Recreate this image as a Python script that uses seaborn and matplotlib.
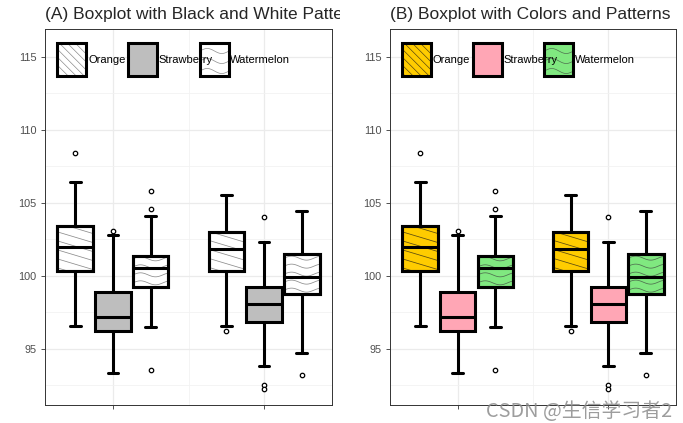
import numpy as np
import pandas as pd
import matplotlib
matplotlib.use("Agg")
import matplotlib.pyplot as plt
import seaborn as sns
from matplotlib.lines import Line2D
from matplotlib.patches import Rectangle, PathPatch
from matplotlib.transforms import IdentityTransform, Bbox, TransformedBbox

# --- данные ---
fruits = ["Orange", "Strawberry", "Watermelon"]
groups = ["G1", "G2"]

# порядок: G1 Orange, G1 Strawberry, G1 Watermelon, G2 Orange, G2 Strawberry, G2 Watermelon
q1 = [100.30, 96.22, 99.25, 100.34, 96.86, 98.75]
med = [101.97, 97.20, 100.57, 101.85, 98.07, 99.93]
q3 = [103.42, 98.90, 101.35, 102.98, 99.25, 101.53]
whis_lo = [96.55, 93.33, 96.47, 96.58, 93.85, 94.70]
whis_hi = [106.46, 102.80, 104.08, 105.56, 102.30, 104.47]
out_lo = [[], [], [93.56], [96.24], [92.53, 92.28], [93.22]]
out_hi = [[108.40], [103.07], [104.60, 105.80], [], [104.06], []]

bw_colors = ["#FFFFFF", "#BEBEBE", "#FFFFFF"]
fill_colors = ["#FFCC00", "#FFA6B5", "#80E880"]

title_a = "(A) Boxplot with Black and White Patterns"
title_b = "(B) Boxplot with Colors and Patterns"

# --- собираем таблицу: 13 точек на ящик, чтобы квартили совпали ---
rows = []
k = 0
for g in groups:
    for f in fruits:
        low = out_lo[k] + [whis_lo[k]]
        low = low + [whis_lo[k]] * (3 - len(low))
        high = [whis_hi[k]] + out_hi[k]
        high = high + [whis_hi[k]] * (3 - len(high))
        vals = low + [q1[k]] * 2 + [med[k]] * 3 + [q3[k]] * 2 + high
        for v in vals:
            rows.append({"group": g, "fruit": f, "value": v})
        k += 1
df = pd.DataFrame(rows)

sns.set_theme(style="white")
plt.rcParams["font.family"] = ["Liberation Sans", "DejaVu Sans"]

W, H = 683, 423
fig = plt.figure(figsize=(W / 100, H / 100), dpi=100)
axA = fig.add_axes([45 / W, 18 / H, 287 / W, 376 / H])
axB = fig.add_axes([390 / W, 18 / H, 286 / W, 376 / H])


def add_line(ax, x, y, clip, color, lw, z):
    ln = Line2D(x, y, transform=IdentityTransform(), color=color, lw=lw, zorder=z)
    ax.add_artist(ln)
    ln.set_clip_path(clip)  # после add_artist, иначе клип заменится на ax.patch


def add_stripes(ax, clip, bb, slope, step, color, lw, z=2.5):
    x = np.array([bb.x0 - 2, bb.x1 + 2])
    for c in np.arange(bb.y0 + step * 0.4, bb.y1 + slope * bb.width + step, step):
        add_line(ax, x, c - slope * (x - bb.x0), clip, color, lw, z)


def add_waves(ax, clip, bb, amp, wl, step, color, lw, z=2.5):
    x = np.linspace(bb.x0 - 2, bb.x1 + 2, 80)
    for c in np.arange(bb.y0 + step * 0.5, bb.y1 + amp, step):
        add_line(ax, x, c + amp * np.sin(2 * np.pi * (x - bb.x0) / wl), clip, color, lw, z)


def draw_panel(ax, colors, stripe_col, wave_col):
    sns.boxplot(data=df, x="group", y="value", hue="fruit", order=groups,
                hue_order=fruits, palette=colors, saturation=1, width=0.75,
                gap=0.06, linewidth=2.2, linecolor="black", fliersize=3.2,
                flierprops=dict(marker="o", markerfacecolor="white",
                                markeredgecolor="black", markeredgewidth=0.9),
                legend=False, ax=ax)
    ax.set_xlim(-0.45, 1.45)
    ax.set_ylim(91.16, 116.9)
    ax.set_xlabel("")
    ax.set_ylabel("")
    ax.set_yticks([95, 100, 105, 110, 115])
    ax.set_yticks([92.5, 97.5, 102.5, 107.5, 112.5], minor=True)
    ax.set_xticks([0, 1])
    ax.set_xticklabels(["", ""])
    ax.set_xticks([0.5], minor=True)
    ax.grid(which="major", color="#EBEBEB", lw=0.9)
    ax.grid(which="minor", color="#F2F2F2", lw=0.6)
    ax.set_axisbelow(True)
    ax.tick_params(which="major", length=3, width=0.6, color="#333333",
                   labelcolor="#4D4D4D", labelsize=7.8, pad=3, left=True, bottom=True)
    ax.tick_params(which="minor", length=0)
    for s in ax.spines.values():
        s.set_color("#333333")
        s.set_linewidth(0.7)

    # усы короче, как в оригинале
    for ln in ax.lines:
        ln.set_zorder(3)
        xd, yd = np.asarray(ln.get_xdata()), np.asarray(ln.get_ydata())
        if len(xd) == 2 and ln.get_linestyle() not in ("None", "none", "") \
                and yd[0] == yd[1] and abs(xd[1] - xd[0]) < 0.15:
            cx = xd.mean()
            ln.set_xdata([cx - 0.036, cx + 0.036])

    # узоры в ящиках
    for p in list(ax.patches):
        ext = p.get_path().get_extents()
        cx = (ext.x0 + ext.x1) / 2
        hi = int(round((cx - round(cx)) / 0.25)) + 1
        bb = p.get_window_extent()
        if hi == 0:
            add_stripes(ax, p, bb, 0.3, 9, stripe_col, 0.55)
        elif hi == 2:
            add_waves(ax, p, bb, 2.0, 30, 8, wave_col, 0.55)
        else:
            continue
        edge = PathPatch(p.get_path(), transform=ax.transData, facecolor="none",
                         edgecolor="black", lw=2.2, zorder=2.6)
        ax.add_artist(edge)

    # легенда внутри панели
    key_x = [0.0418, 0.289, 0.540]
    lab_x = [0.150, 0.397, 0.645]
    for i, f in enumerate(fruits):
        r = Rectangle((key_x[i], 0.875), 0.101, 0.0878, transform=ax.transAxes,
                      facecolor=colors[i], edgecolor="none", zorder=5)
        ax.add_artist(r)
        bb = r.get_window_extent()
        if i == 0:
            add_stripes(ax, r, bb, 1.0, 8, stripe_col, 0.5, z=5.5)
        elif i == 2:
            add_waves(ax, r, bb, 2.5, 29, 10, wave_col, 0.5, z=5.5)
        rim = Rectangle((key_x[i], 0.875), 0.101, 0.0878, transform=ax.transAxes,
                        facecolor="none", edgecolor="black", lw=2.2, zorder=6)
        ax.add_artist(rim)
        ax.text(lab_x[i], 0.9176, f, transform=ax.transAxes, fontsize=8,
                va="center", ha="left", color="black", zorder=7)


draw_panel(axA, bw_colors, "#8C8C8C", "#8C8C8C")
draw_panel(axB, fill_colors, "#5A4A10", "#4F6F4F")

tA = fig.text(45 / W, 1 - 18.5 / H, title_a, fontsize=12.5, va="baseline", ha="left")
tA.set_clip_box(TransformedBbox(Bbox.from_extents(0, 0, 340 / W, 1), fig.transFigure))
tA.set_clip_on(True)
fig.text(390 / W, 1 - 18.5 / H, title_b, fontsize=12.5, va="baseline", ha="left")

fig.text(486 / W, 12 / H, "CSDN @生信学习者2", fontsize=14.3, color="#8C8C8C",
         alpha=0.85, va="center", ha="left", family=["Noto Sans CJK SC", "DejaVu Sans"])

fig.savefig("out.png", dpi=100)
